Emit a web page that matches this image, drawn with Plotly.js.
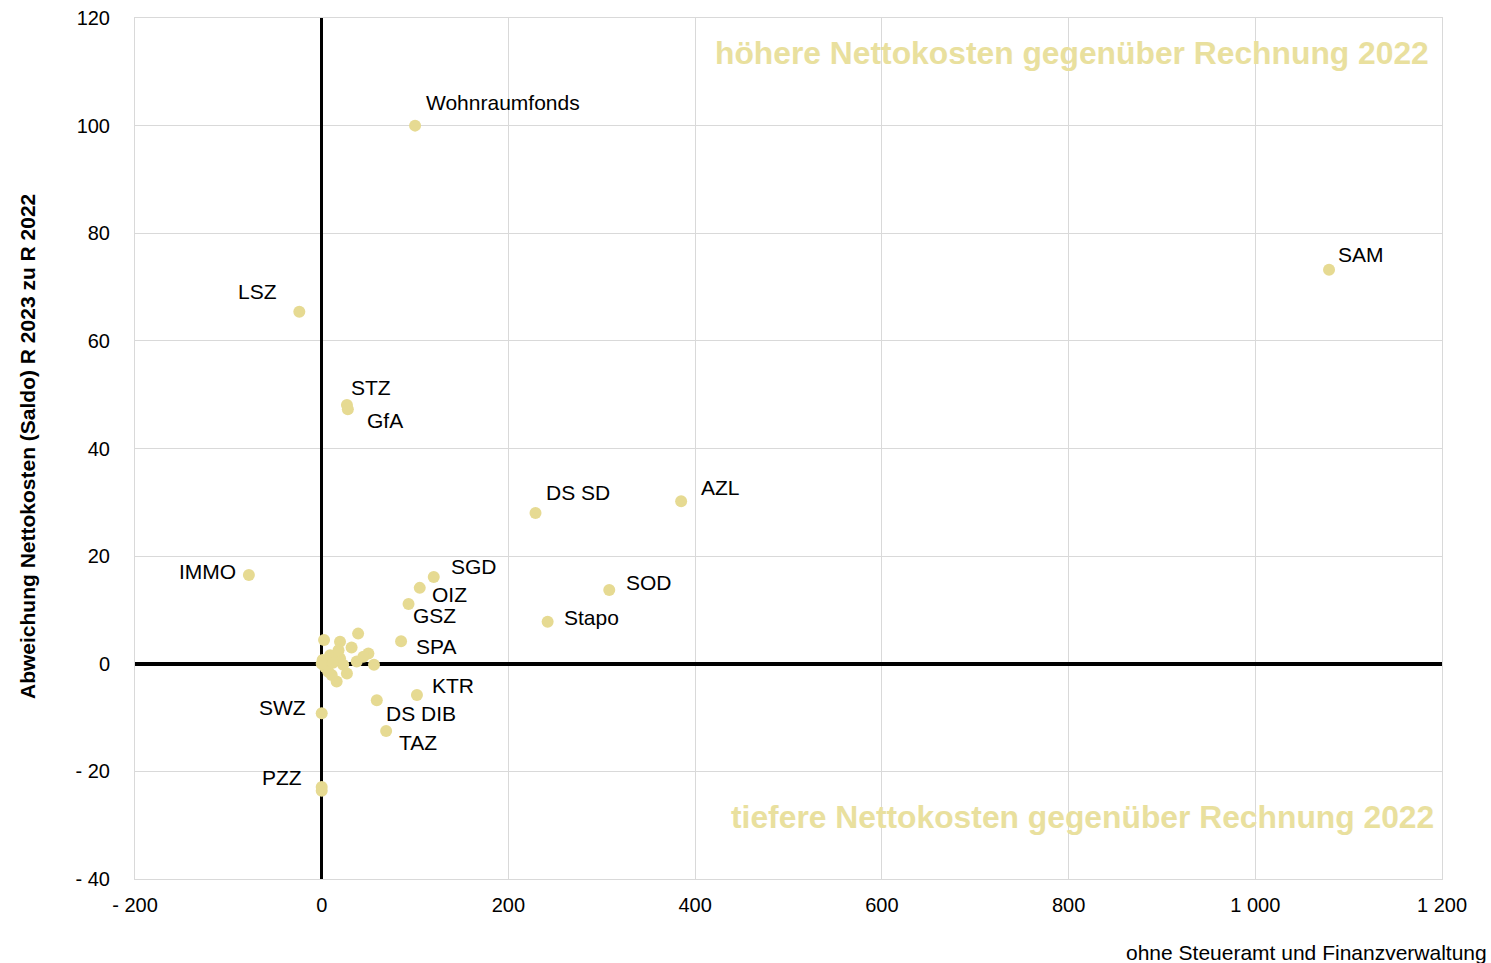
<!DOCTYPE html>
<html>
<head>
<meta charset="utf-8">
<script src="https://cdn.plot.ly/plotly-3.0.1.min.js"></script>
<style>html,body{margin:0;padding:0;background:#fff}#chart{width:1491px;height:963px}</style>
</head>
<body>
<div id="chart"></div>
<script>
// Labelled organisational units
const labels = ["Wohnraumfonds","SAM","LSZ","STZ","GfA","DS SD","AZL","IMMO","SGD","OIZ","GSZ","SOD","Stapo","SPA","KTR","DS DIB","TAZ","SWZ","PZZ"];
const xLabelled = [100, 1079, -24, 27, 28, 229, 385, -78, 120, 105, 93, 308, 242, 85, 102, 59, 69, 0, 0];
const yLabelled = [100, 73.2, 65.4, 48.1, 47.3, 28.0, 30.2, 16.5, 16.1, 14.1, 11.1, 13.7, 7.8, 4.2, -5.8, -6.8, -12.5, -9.2, -22.9];
// Unlabelled units (cluster near origin and second PZZ point)
const xOther = [39, 2.5, 19.6, 32, 50, 56, 1, 16, 27, 7, 10.7, 19.6, 9, 37.5, 3.5, 23, 18, 44.6, 0, 0, 12];
const yOther = [5.6, 4.4, 4.1, 3.0, 1.9, -0.2, 0.7, -3.3, -1.8, -1.5, -2.1, 1.0, 1.6, 0.4, -0.6, -0.2, 2.5, 1.3, -23.6, 0, 0.2];
// Axis ticks
const xTickVals = [-200, 0, 200, 400, 600, 800, 1000, 1200];
const xTickText = ["- 200", "0", "200", "400", "600", "800", "1 000", "1 200"];
const yTickVals = [-40, -20, 0, 20, 40, 60, 80, 100, 120];
const yTickText = ["- 40", "- 20", "0", "20", "40", "60", "80", "100", "120"];
// Label placement (pixel offsets from marker; layout only)
const labelAnchor = ["left","left","right","left","left","left","left","right","left","left","left","left","left","left","left","left","left","right","right"];
const labelDx = [9, 7, -20, 2, 17, 8, 18, -11, 15, 10, 2, 15, 14, 13, 13, 7, 11, -14, -18];
const labelDy = [23, 15, 20, 17, -11, 21, 14, 3, 11, -7, -11, 8, 4, -5, 9, -13, -11, 6, 9];

const markerColor = "#e6da92";
const font = "Liberation Sans, Arial, sans-serif";

const traces = [
  {x: xOther, y: yOther, type: "scatter", mode: "markers", marker: {color: markerColor, size: 12}, hoverinfo: "skip", showlegend: false},
  {x: xLabelled, y: yLabelled, text: labels, type: "scatter", mode: "markers", marker: {color: markerColor, size: 12}, showlegend: false}
];

const annotations = labels.map((t, i) => ({
  x: xLabelled[i], y: yLabelled[i], xref: "x", yref: "y", text: t, showarrow: false,
  xanchor: labelAnchor[i], yanchor: "middle", xshift: labelDx[i], yshift: labelDy[i],
  font: {family: font, size: 21, color: "#000"}
}));
annotations.push(
  {xref: "paper", yref: "paper", x: (1431 - 135) / 1307, y: 0.9593, xanchor: "right", yanchor: "middle", showarrow: false,
   text: "<b>höhere Nettokosten gegenüber Rechnung 2022</b>", font: {family: font, size: 31.8, color: "#e9e09e"}},
  {xref: "paper", yref: "paper", x: (1436 - 135) / 1307, y: 0.072, xanchor: "right", yanchor: "middle", showarrow: false,
   text: "<b>tiefere Nettokosten gegenüber Rechnung 2022</b>", font: {family: font, size: 31.8, color: "#e9e09e"}},
  {xref: "paper", yref: "paper", x: (1489 - 135) / 1307, y: -0.0848, xanchor: "right", yanchor: "middle", showarrow: false,
   text: "ohne Steueramt und Finanzverwaltung", font: {family: font, size: 21, color: "#000"}},
  {xref: "paper", yref: "paper", x: (27 - 135) / 1307, y: (879 - 447) / 861, xanchor: "center", yanchor: "middle", showarrow: false,
   textangle: -90, text: "<b>Abweichung Nettokosten (Saldo) R 2023 zu R 2022</b>", font: {family: font, size: 21, color: "#000"}}
);

const layout = {
  width: 1491, height: 963,
  margin: {l: 135, r: 49, t: 18, b: 84},
  paper_bgcolor: "#fff", plot_bgcolor: "#fff",
  font: {family: font, size: 20, color: "#000"},
  xaxis: {
    range: [-200, 1200], tickvals: xTickVals, ticktext: xTickText, showgrid: true, gridcolor: "#d9d9d9", gridwidth: 1,
    zeroline: true, zerolinecolor: "#000", zerolinewidth: 3.5,
    showline: true, mirror: true, linecolor: "#d9d9d9", linewidth: 1, ticks: "", ticklabelstandoff: 8,
    tickfont: {family: font, size: 20, color: "#000"}, fixedrange: true
  },
  yaxis: {
    range: [-40, 120], tickvals: yTickVals, ticktext: yTickText, showgrid: true, gridcolor: "#d9d9d9", gridwidth: 1,
    zeroline: true, zerolinecolor: "#000", zerolinewidth: 3.5,
    showline: true, mirror: true, linecolor: "#d9d9d9", linewidth: 1, ticks: "", ticklabelstandoff: 20,
    tickfont: {family: font, size: 20, color: "#000"},
    fixedrange: true
  },
  annotations: annotations
};

Plotly.newPlot("chart", traces, layout, {displayModeBar: false, staticPlot: true});
</script>
</body>
</html>
